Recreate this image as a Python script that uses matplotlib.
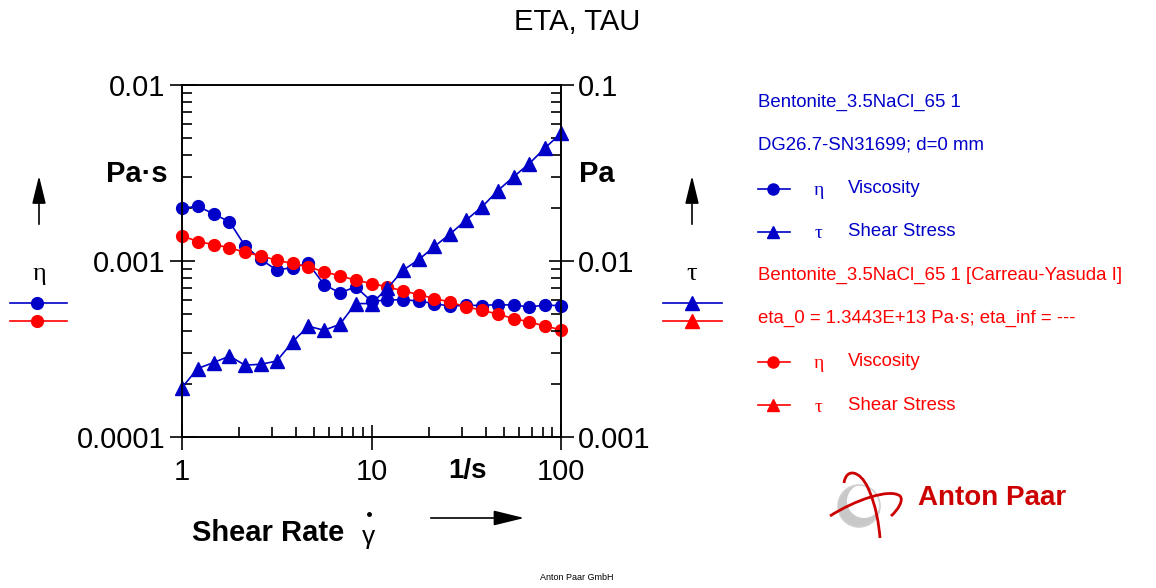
import numpy as np
import matplotlib
matplotlib.use('Agg')
import matplotlib.pyplot as plt
from matplotlib.path import Path
from matplotlib.patches import PathPatch, Circle
from matplotlib.ticker import FixedLocator, FixedFormatter, NullFormatter, LogLocator

plt.rcParams['font.family'] = ['Liberation Sans', 'DejaVu Sans']

# data
shear_rate = [1, 1.21, 1.47, 1.78, 2.15, 2.61, 3.16, 3.83, 4.64, 5.62, 6.81, 8.25,
              10, 12.1, 14.7, 17.8, 21.5, 26.1, 31.6, 38.3, 46.4, 56.2, 68.1, 82.5, 100]
eta_meas = [0.00199, 0.00205, 0.00185, 0.00167, 0.00122, 0.00102, 0.000888, 0.000918,
            0.000968, 0.000735, 0.000659, 0.000713, 0.000591, 0.000599, 0.000604,
            0.000591, 0.000573, 0.000553, 0.000561, 0.000558, 0.000566, 0.000561,
            0.000549, 0.000561, 0.000558]
tau_meas = [0.00191, 0.00245, 0.00265, 0.00288, 0.00256, 0.00259, 0.00270, 0.00347,
            0.00426, 0.00404, 0.00437, 0.00573, 0.00573, 0.00698, 0.00888, 0.0102,
            0.0121, 0.0143, 0.0171, 0.0203, 0.0251, 0.0301, 0.0358, 0.0440, 0.0531]
eta_fit = [0.00139, 0.00129, 0.00124, 0.00119, 0.00112, 0.00107, 0.00101, 0.000968,
           0.000927, 0.000868, 0.000824, 0.000778, 0.000745, 0.000713, 0.000676,
           0.000644, 0.000612, 0.000583, 0.000549, 0.000525, 0.000499, 0.000471,
           0.000451, 0.000426, 0.000407]

x_ticks = [1, 10, 100]
x_tick_labels = ['1', '10', '100']
eta_ticks = [0.0001, 0.001, 0.01]
eta_tick_labels = ['0.0001', '0.001', '0.01']
tau_ticks = [0.001, 0.01, 0.1]
tau_tick_labels = ['0.001', '0.01', '0.1']

legend_rows = [
    ('text', 'Bentonite_3.5NaCl_65 1', 'blue'),
    ('text', 'DG26.7-SN31699; d=0 mm', 'blue'),
    ('o', 'Viscosity', 'blue'),
    ('^', 'Shear Stress', 'blue'),
    ('text', 'Bentonite_3.5NaCl_65 1 [Carreau-Yasuda I]', 'red'),
    ('text', 'eta_0 = 1.3443E+13 Pa\u00b7s; eta_inf = ---', 'red'),
    ('o', 'Viscosity', 'red'),
    ('^', 'Shear Stress', 'red'),
]

BLUE = '#0000c8'
RED = '#ff0000'
colors = {'blue': BLUE, 'red': RED}

W, H = 1156, 588
fig = plt.figure(figsize=(W / 100, H / 100), dpi=100)

# main axes (pixel box 182..561 x 85..437)
ax = fig.add_axes([182 / W, 1 - 437 / H, (561 - 182) / W, (437 - 85) / H])
ax2 = ax.twinx()

ax.plot(shear_rate, eta_fit, '-', color=RED, lw=1.2, marker='o', ms=8.5, zorder=3, clip_on=False)
ax.plot(shear_rate, eta_meas, '-', color=BLUE, lw=1.2, marker='o', ms=8.5, zorder=2, clip_on=False)
ax2.plot(shear_rate, tau_meas, '-', color=BLUE, lw=1.2, marker='^', ms=9.5, clip_on=False)

for a in (ax, ax2):
    a.set_xscale('log')
    a.set_yscale('log')
    a.set_xlim(1, 100)
ax.set_ylim(0.0001, 0.01)
ax2.set_ylim(0.001, 0.1)

ax.xaxis.set_major_locator(FixedLocator(x_ticks))
ax.xaxis.set_major_formatter(FixedFormatter(x_tick_labels))
ax.xaxis.set_minor_locator(LogLocator(base=10, subs=np.arange(2, 10)))
ax.xaxis.set_minor_formatter(NullFormatter())
ax.yaxis.set_major_locator(FixedLocator(eta_ticks))
ax.yaxis.set_major_formatter(FixedFormatter(eta_tick_labels))
ax.yaxis.set_minor_locator(LogLocator(base=10, subs=np.arange(2, 10)))
ax.yaxis.set_minor_formatter(NullFormatter())
ax2.yaxis.set_major_locator(FixedLocator(tau_ticks))
ax2.yaxis.set_major_formatter(FixedFormatter(tau_tick_labels))
ax2.yaxis.set_minor_locator(LogLocator(base=10, subs=np.arange(2, 10)))
ax2.yaxis.set_minor_formatter(NullFormatter())

for a in (ax, ax2):
    for s in a.spines.values():
        s.set_linewidth(1.2)
ax.tick_params(which='major', direction='inout', length=18, width=1.2, labelsize=21,
               top=False, right=False, pad=3)
ax.tick_params(axis='x', which='major', pad=6)
ax.tick_params(which='minor', direction='in', length=7, width=1.2, top=False, right=False)
ax2.tick_params(which='major', direction='inout', length=18, width=1.2, labelsize=21,
                top=False, left=False, pad=3)
ax2.tick_params(which='minor', direction='in', length=7, width=1.2, top=False, left=False)
ax2.tick_params(axis='x', which='both', top=False, bottom=False, labelbottom=False)

# overlay in pixel coordinates for annotations, legend and logo
ov = fig.add_axes([0, 0, 1, 1])
ov.set_xlim(0, W)
ov.set_ylim(H, 0)
ov.axis('off')
ov.patch.set_alpha(0)

arrow_style = '-|>,head_length=0.9,head_width=0.22'

ov.text(577, 22, 'ETA, TAU', ha='center', va='center', fontsize=21)
ov.text(137, 174, 'Pa\u00b7s', ha='center', va='center', fontsize=21, fontweight='bold')
ov.text(597, 174, 'Pa', ha='center', va='center', fontsize=21, fontweight='bold')
ov.text(467, 471, '1/s', ha='center', va='center', fontsize=20, fontweight='bold')
ov.text(192, 533, 'Shear Rate', ha='left', va='center', fontsize=21, fontweight='bold')
ov.text(369, 537, '\u03b3', ha='center', va='center', fontsize=19)
ov.plot([369], [514], 'o', color='black', ms=2.5)
ov.annotate('', xy=(527, 518), xytext=(428, 518),
            arrowprops=dict(arrowstyle=arrow_style, color='black', lw=1.2, mutation_scale=21))

# axis symbol markers
for x0, sym in ((39, '\u03b7'), (692, '\u03c4')):
    ov.annotate('', xy=(x0, 173), xytext=(x0, 227),
                arrowprops=dict(arrowstyle=arrow_style, color='black', lw=1.2, mutation_scale=19))
    ov.text(x0, 274, sym, ha='center', va='center', fontsize=19,
            family=['Liberation Serif', 'DejaVu Serif'])
for x0, x1, xm, mk in ((10, 67, 37, 'o'), (663, 722, 692, '^')):
    for yy, c in ((303, BLUE), (321, RED)):
        ov.plot([x0, x1], [yy, yy], '-', color=c, lw=1.2)
        ov.plot([xm], [yy], mk, color=c, ms=8.5 if mk == 'o' else 9.5)

# legend
for i, (kind, label, cname) in enumerate(legend_rows):
    y = 102 + i * 43.3
    c = colors[cname]
    if kind == 'text':
        ov.text(758, y, label, color=c, ha='left', va='center', fontsize=13.4)
    else:
        ov.plot([758, 790], [y, y], '-', color=c, lw=1.2)
        ov.plot([773], [y], kind, color=c, ms=8 if kind == 'o' else 9)
        sym = '\u03b7' if kind == 'o' else '\u03c4'
        ov.text(819, y + 2, sym, color=c, ha='center', va='center', fontsize=14,
                family=['Liberation Serif', 'DejaVu Serif'])
        ov.text(848, y, label, color=c, ha='left', va='center', fontsize=13.4)

# Anton Paar logo
ov.add_patch(Circle((859, 506), 21, facecolor='#c8c8c8', edgecolor='none'))
ov.add_patch(Circle((864, 501), 17, facecolor='white', edgecolor='none'))
ov.add_patch(Circle((859, 506), 21, facecolor='none', edgecolor='#d0d0d0', lw=1.2))
logo_red = '#cc0000'
p1 = Path([(844, 483), (846, 468), (860, 470), (868, 488), (876, 505), (879, 525), (880, 538)],
          [Path.MOVETO, Path.CURVE4, Path.CURVE4, Path.CURVE4, Path.CURVE4, Path.CURVE4, Path.CURVE4])
ov.add_patch(PathPatch(p1, facecolor='none', edgecolor=logo_red, lw=2))
p2 = Path([(830, 516), (855, 500), (890, 488), (900, 496), (904, 500), (898, 510), (891, 516)],
          [Path.MOVETO, Path.CURVE4, Path.CURVE4, Path.CURVE4, Path.CURVE4, Path.CURVE4, Path.CURVE4])
ov.add_patch(PathPatch(p2, facecolor='none', edgecolor=logo_red, lw=2))
ov.text(918, 498, 'Anton Paar', color=logo_red, ha='left', va='center', fontsize=20,
        fontweight='bold')

ov.text(577, 578, 'Anton Paar GmbH', ha='center', va='center', fontsize=6.5)

fig.savefig('out.png', dpi=100)
